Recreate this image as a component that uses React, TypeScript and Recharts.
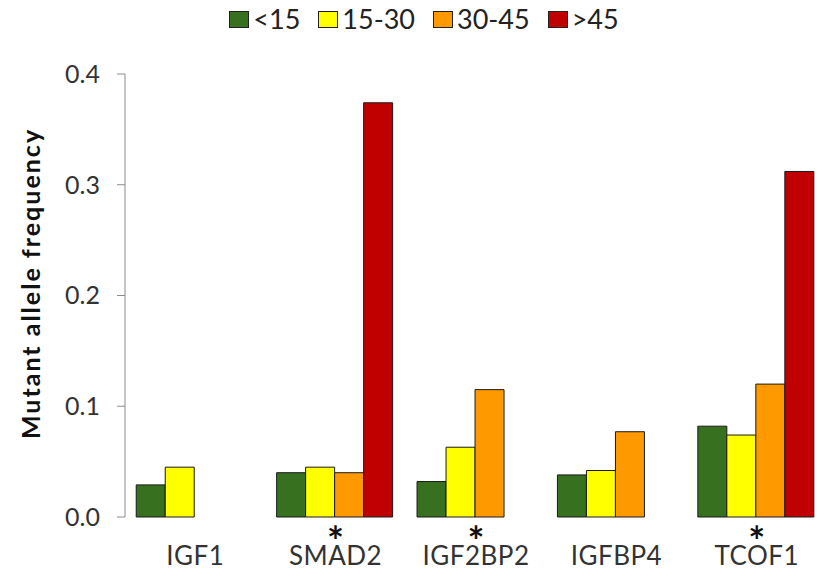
import React from "react";
import { BarChart, Bar, XAxis, YAxis, Legend } from "recharts";

const genes = ["IGF1", "SMAD2", "IGF2BP2", "IGFBP4", "TCOF1"];
const significant = [false, true, true, false, true];

const under15 = [0.029, 0.04, 0.032, 0.038, 0.082];
const from15to30 = [0.045, 0.045, 0.063, 0.042, 0.074];
const from30to45 = [null, 0.04, 0.115, 0.077, 0.12];
const over45 = [null, 0.374, null, null, 0.312];

const yTicks = [0, 0.1, 0.2, 0.3, 0.4];
const edgeTicks = [0, 1, 2, 3, 4, 5];

const groups = [
  { key: "under15", name: "<15", color: "#37701f", values: under15 },
  { key: "from15to30", name: "15-30", color: "#ffff00", values: from15to30 },
  { key: "from30to45", name: "30-45", color: "#ff9900", values: from30to45 },
  { key: "over45", name: ">45", color: "#c00000", values: over45 },
];

const data = genes.map((gene, i) => {
  const row: Record<string, string | number | null> = { gene };
  groups.forEach((g) => {
    row[g.key] = g.values[i];
  });
  return row;
});

const FONT = "Lato, 'Open Sans', sans-serif";
const AXIS = "#8c8c8c";

// gene name with a significance star above it
const GeneTick = (props: any) => {
  const { x, y, payload } = props;
  return (
    <g>
      {significant[payload.index] && (
        <text x={x} y={y + 39} textAnchor="middle" fontSize={40} fontWeight={700} fill="#111" fontFamily={FONT}>
          *
        </text>
      )}
      <text x={x} y={y + 48} textAnchor="middle" fontSize={26} letterSpacing={0.5} fill="#333" fontFamily={FONT}>
        {payload.value}
      </text>
    </g>
  );
};

const LegendRow = () => (
  <div
    style={{
      display: "flex",
      justifyContent: "center",
      alignItems: "center",
      fontFamily: FONT,
      fontSize: 27,
      lineHeight: "34px",
      color: "#222",
      gap: 18,
      paddingLeft: 18,
    }}
  >
    {groups.map((g) => (
      <div key={g.key} style={{ display: "flex", alignItems: "center", gap: 4 }}>
        <span
          style={{
            display: "inline-block",
            width: 20,
            height: 17,
            background: g.color,
            border: "1px solid #222",
            boxSizing: "border-box",
          }}
        />
        <span>{g.name}</span>
      </div>
    ))}
  </div>
);

export default function App() {
  return (
    <div style={{ position: "absolute", left: 0, top: 0, background: "#fff" }}>
      <BarChart
        width={830}
        height={570}
        data={data}
        margin={{ top: 40, right: 3, bottom: 0, left: 0 }}
        barCategoryGap="8%"
        barGap={0}
      >
        <Legend
          verticalAlign="top"
          content={() => <LegendRow />}
          wrapperStyle={{ top: 2, left: 0, width: 830, height: 34 }}
        />
        {/* numeric axis only for the tick marks between gene groups */}
        <XAxis
          xAxisId="edges"
          type="number"
          domain={[0, 5]}
          ticks={edgeTicks}
          tick={false}
          tickSize={8}
          height={0}
          stroke={AXIS}
        />
        <XAxis
          xAxisId="genes"
          dataKey="gene"
          axisLine={false}
          tickLine={false}
          tickSize={0}
          tickMargin={0}
          height={53}
          tick={<GeneTick />}
          interval={0}
        />
        <YAxis
          domain={[0, 0.4]}
          ticks={yTicks}
          width={125}
          tickSize={8}
          tickMargin={17}
          stroke={AXIS}
          tickFormatter={(v: number) => v.toFixed(1)}
          tick={{ fill: "#333", fontSize: 25, fontFamily: FONT }}
          label={(p: any) => {
            const vb = p.viewBox;
            const cx = 30;
            const cy = vb.y + vb.height / 2 - 12;
            return (
              <text
                x={cx}
                y={cy}
                transform={`rotate(-90 ${cx} ${cy})`}
                textAnchor="middle"
                dominantBaseline="central"
                fontSize={25}
                letterSpacing={2}
                fontWeight={700}
                fill="#111"
                fontFamily={FONT}
              >
                Mutant allele frequency
              </text>
            );
          }}
        />
        {groups.map((g) => (
          <Bar
            key={g.key}
            xAxisId="genes"
            dataKey={g.key}
            name={g.name}
            fill={g.color}
            stroke="#1a1a1a"
            strokeWidth={1}
            isAnimationActive={false}
          />
        ))}
      </BarChart>
    </div>
  );
}
